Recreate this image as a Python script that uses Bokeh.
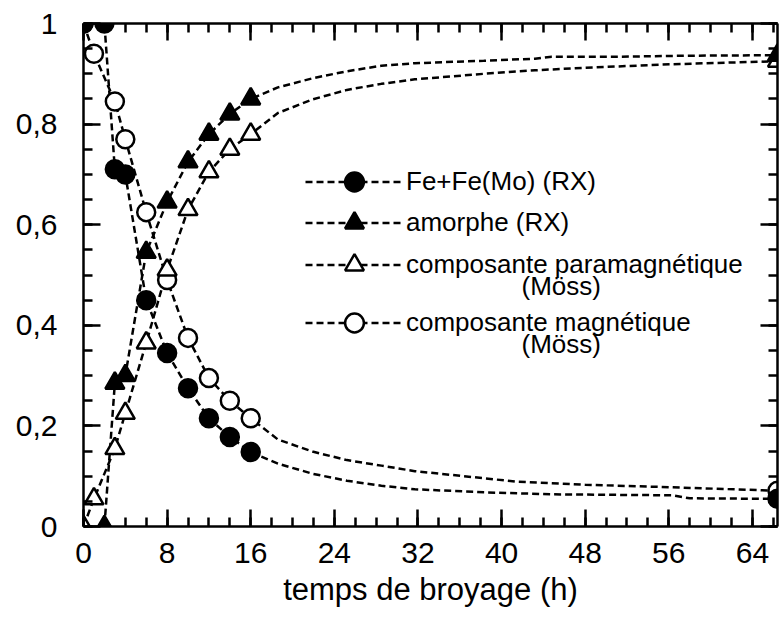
from bokeh.plotting import figure
from bokeh.models import LinearAxis, FixedTicker, Legend, LegendItem, Label, Range1d
from bokeh.embed import file_html
from bokeh.resources import INLINE

# ---------------- data ----------------
# measured points (time in h, fraction)
fe_t = [0, 2, 3, 4, 6, 8, 10, 12, 14, 16, 66.4]
fe_v = [1.0, 1.0, 0.71, 0.70, 0.45, 0.345, 0.275, 0.215, 0.178, 0.148, 0.055]

am_t = [2, 3, 4, 6, 8, 10, 12, 14, 16, 66.4]
am_v = [0.0, 0.285, 0.30, 0.545, 0.645, 0.725, 0.78, 0.82, 0.85, 0.937]

pa_t = [0, 1, 3, 4, 6, 8, 10, 12, 14, 16, 66.4]
pa_v = [0.0, 0.055, 0.155, 0.225, 0.365, 0.51, 0.63, 0.705, 0.75, 0.78, 0.925]

ma_t = [0, 1, 3, 4, 6, 8, 10, 12, 14, 16, 66.4]
ma_v = [1.0, 0.94, 0.845, 0.77, 0.625, 0.49, 0.375, 0.295, 0.25, 0.215, 0.071]

# dashed guide curves beyond 16 h
fe_tail_t = [18.6, 21.9, 25.2, 28.5, 31.7, 38.3, 44.8, 56.3, 58.0]
fe_tail_v = [0.125, 0.105, 0.091, 0.081, 0.074, 0.068, 0.064, 0.062, 0.056]

am_tail_t = [18.6, 21.9, 25.2, 28.5, 31.7, 38.3, 43.2, 44.8, 51.4, 57.9]
am_tail_v = [0.873, 0.891, 0.905, 0.916, 0.921, 0.926, 0.930, 0.934, 0.934, 0.936]

pa_tail_t = [18.6, 21.9, 25.2, 28.5, 31.7, 38.3, 43.2, 48.0, 56.3]
pa_tail_v = [0.822, 0.849, 0.868, 0.880, 0.889, 0.900, 0.907, 0.912, 0.919]

ma_tail_t = [18.6, 21.9, 25.2, 28.5, 31.7, 35.0, 41.5, 48.0, 56.3]
ma_tail_v = [0.173, 0.149, 0.132, 0.121, 0.110, 0.103, 0.089, 0.083, 0.078]

labels = ["Fe+Fe(Mo) (RX)", "amorphe (RX)", "composante paramagnétique", "composante magnétique"]
sub_label = "(Möss)"

x_ticks = [0, 8, 16, 24, 32, 40, 48, 56, 64]
y_ticks = [0, 0.2, 0.4, 0.6, 0.8, 1.0]
y_tick_labels = ["0", "0,2", "0,4", "0,6", "0,8", "1"]
x_title = "temps de broyage (h)"

x_min, x_max = 0, 66.4
y_min, y_max = 0, 1

FONT = "Liberation Sans"

p = figure(width=780, height=617, output_backend="svg", toolbar_location=None,
           x_range=Range1d(x_min, x_max), y_range=Range1d(y_min, y_max),
           min_border_left=83, min_border_right=3, min_border_top=23, min_border_bottom=91)
p.grid.visible = False
p.outline_line_color = None

x_minor = [i * 2 for i in range(0, 34)]
y_minor = [round(i * 0.05, 2) for i in range(0, 21)]


def style_axis(ax):
    ax.axis_line_width = 2.5
    ax.axis_line_color = "black"
    ax.major_tick_line_width = 2.5
    ax.minor_tick_line_width = 2.5
    ax.major_tick_line_color = "black"
    ax.minor_tick_line_color = "black"
    ax.major_tick_in = 17
    ax.major_tick_out = 0
    ax.minor_tick_in = 9
    ax.minor_tick_out = 0
    ax.major_label_text_font = FONT
    ax.major_label_text_font_size = "30px"
    ax.major_label_text_color = "black"


xb = p.xaxis[0]
xb.ticker = FixedTicker(ticks=x_ticks, minor_ticks=x_minor)
style_axis(xb)
xb.major_label_standoff = 16
xb.axis_label = x_title
xb.axis_label_text_font = FONT
xb.axis_label_text_font_size = "31px"
xb.axis_label_text_font_style = "normal"
xb.axis_label_text_color = "black"
xb.axis_label_standoff = 6

yl = p.yaxis[0]
yl.ticker = FixedTicker(ticks=y_ticks, minor_ticks=y_minor)
style_axis(yl)
yl.major_label_standoff = 26
yl.major_label_overrides = {t: s for t, s in zip(y_ticks, y_tick_labels)}

# mirrored axes (ticks only) on top and right
xt = LinearAxis(ticker=FixedTicker(ticks=x_ticks, minor_ticks=x_minor))
style_axis(xt)
xt.major_label_overrides = {t: "" for t in x_ticks}
xt.major_label_standoff = 0
p.add_layout(xt, "above")

yr = LinearAxis(ticker=FixedTicker(ticks=y_ticks, minor_ticks=y_minor))
style_axis(yr)
yr.major_label_overrides = {t: "" for t in y_ticks}
yr.major_label_standoff = 0
p.add_layout(yr, "right")

DASH = "7 4"
LW = 2.5

series = [
    (fe_t, fe_v, fe_tail_t, fe_tail_v, "circle", "black", 18),
    (am_t, am_v, am_tail_t, am_tail_v, "triangle", "black", 19),
    (pa_t, pa_v, pa_tail_t, pa_tail_v, "triangle", "white", 19),
    (ma_t, ma_v, ma_tail_t, ma_tail_v, "circle", "white", 18),
]

line_rs = []
for t, v, tt, tv, mk, fill, sz in series:
    lt = t[:-1] + tt + t[-1:]
    lv = v[:-1] + tv + v[-1:]
    line_rs.append(p.line(lt, lv, line_color="black", line_width=LW, line_dash=DASH))

marker_rs = [None] * 4
for idx in [3, 2, 1, 0]:
    t, v, tt, tv, mk, fill, sz = series[idx]
    marker_rs[idx] = p.scatter(t, v, marker=mk, size=sz, fill_color=fill,
                               line_color="black", line_width=2.5)

# legend: one legend per row (screen offsets from the bottom-left of the frame)
row_offsets = [321, 280, 238, 180]
for i in range(4):
    lg = Legend(items=[LegendItem(label=labels[i], renderers=[line_rs[i], marker_rs[i]])],
                location=(222, row_offsets[i]), orientation="vertical",
                padding=0, margin=0, spacing=0,
                glyph_width=98, glyph_height=47, label_height=47,
                label_standoff=3,
                label_text_font=FONT, label_text_font_size="26px",
                label_text_color="black",
                border_line_color=None, background_fill_alpha=0)
    p.add_layout(lg, "center")

for yy in [241, 183]:
    p.add_layout(Label(x=438, y=yy, x_units="screen", y_units="screen", text=sub_label,
                       text_font=FONT, text_font_size="26px", text_color="black",
                       text_baseline="middle"))

open("out.html", "w").write(file_html(p, INLINE))
